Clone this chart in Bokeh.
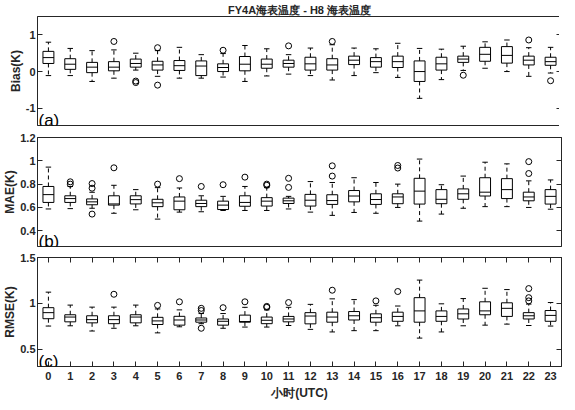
from bokeh.plotting import figure
from bokeh.models import (Range1d, FixedTicker, LinearAxis, Label,
                          CustomJSTickFormatter, ColumnDataSource)
from bokeh.layouts import column
from bokeh.transform import dodge
from bokeh.embed import file_html
from bokeh.resources import INLINE

# ---------------- data ----------------
hours = list(range(24))
hour_labels = [str(h) for h in hours]

title_text = "FY4A海表温度 - H8 海表温度"
x_label = "小时(UTC)"

# (a) Bias
bias_lo  = [-0.11, -0.11, -0.27, -0.18, 0.04, -0.13, -0.18, -0.18, -0.15, -0.27, -0.12, -0.07,
            -0.11, -0.23, -0.11, -0.03, -0.16, -0.73, -0.22, 0.03, 0.09, 0.00, -0.13, -0.04]
bias_q1  = [0.22, 0.06, -0.03, 0.02, 0.12, 0.04, 0.03, -0.11, 0.00, 0.02, 0.09, 0.12,
            0.04, 0.04, 0.19, 0.12, 0.11, -0.27, 0.04, 0.25, 0.28, 0.23, 0.18, 0.17]
bias_med = [0.38, 0.20, 0.12, 0.12, 0.22, 0.18, 0.16, 0.15, 0.11, 0.20, 0.20, 0.22,
            0.21, 0.18, 0.31, 0.27, 0.27, 0.00, 0.21, 0.34, 0.47, 0.44, 0.31, 0.27]
bias_q3  = [0.55, 0.35, 0.25, 0.27, 0.34, 0.28, 0.30, 0.29, 0.21, 0.41, 0.34, 0.31,
            0.39, 0.35, 0.42, 0.38, 0.42, 0.29, 0.39, 0.42, 0.66, 0.68, 0.42, 0.39]
bias_hi  = [0.80, 0.63, 0.57, 0.59, 0.50, 0.57, 0.66, 0.46, 0.49, 0.71, 0.62, 0.46,
            0.64, 0.73, 0.64, 0.62, 0.77, 0.63, 0.61, 0.69, 0.81, 0.86, 0.65, 0.66]
bias_out_h = [3, 4, 4, 5, 5, 8, 11, 13, 19, 22, 23]
bias_out_v = [0.82, -0.26, -0.30, 0.65, -0.37, 0.58, 0.70, 0.82, -0.10, 0.86, -0.25]

# (b) MAE
mae_lo  = [0.587, 0.59, 0.593, 0.55, 0.58, 0.50, 0.56, 0.563, 0.574, 0.574, 0.574, 0.587,
           0.56, 0.532, 0.557, 0.55, 0.60, 0.483, 0.543, 0.593, 0.607, 0.607, 0.60, 0.585]
mae_q1  = [0.643, 0.643, 0.623, 0.62, 0.63, 0.607, 0.58, 0.607, 0.582, 0.61, 0.612, 0.634,
           0.612, 0.626, 0.648, 0.626, 0.632, 0.629, 0.632, 0.67, 0.698, 0.676, 0.657, 0.629]
mae_med = [0.71, 0.676, 0.648, 0.63, 0.667, 0.64, 0.654, 0.634, 0.62, 0.643, 0.654, 0.657,
           0.662, 0.659, 0.698, 0.668, 0.69, 0.74, 0.67, 0.717, 0.731, 0.753, 0.69, 0.695]
mae_q3  = [0.78, 0.70, 0.673, 0.70, 0.70, 0.67, 0.69, 0.662, 0.654, 0.70, 0.684, 0.68,
           0.712, 0.709, 0.745, 0.717, 0.717, 0.85, 0.753, 0.759, 0.855, 0.847, 0.731, 0.753]
mae_hi  = [0.946, 0.78, 0.73, 0.79, 0.753, 0.77, 0.767, 0.70, 0.695, 0.78, 0.77, 0.695,
           0.822, 0.814, 0.855, 0.814, 0.80, 1.015, 0.795, 0.869, 0.988, 0.974, 0.828, 0.836]
mae_out_h = [1, 1, 2, 2, 2, 3, 5, 6, 7, 8, 9, 10, 10, 11, 11, 13, 13, 16, 16, 22, 22]
mae_out_v = [0.82, 0.80, 0.805, 0.765, 0.543, 0.94, 0.80, 0.847, 0.78, 0.795, 0.86,
             0.80, 0.79, 0.85, 0.772, 0.957, 0.869, 0.96, 0.938, 0.993, 0.891]

# (c) RMSE
rmse_lo  = [0.754, 0.757, 0.70, 0.73, 0.757, 0.68, 0.746, 0.78, 0.73, 0.743, 0.743, 0.76,
            0.718, 0.69, 0.704, 0.704, 0.757, 0.623, 0.69, 0.757, 0.764, 0.775, 0.76, 0.754]
rmse_q1  = [0.834, 0.80, 0.789, 0.78, 0.789, 0.771, 0.764, 0.796, 0.764, 0.796, 0.78, 0.80,
            0.778, 0.796, 0.82, 0.796, 0.806, 0.796, 0.806, 0.831, 0.877, 0.859, 0.831, 0.806]
rmse_med = [0.90, 0.852, 0.824, 0.824, 0.852, 0.81, 0.82, 0.82, 0.806, 0.803, 0.817, 0.831,
            0.863, 0.852, 0.866, 0.845, 0.859, 0.919, 0.859, 0.887, 0.919, 0.947, 0.866, 0.87]
rmse_q3  = [0.954, 0.877, 0.866, 0.866, 0.877, 0.849, 0.86, 0.842, 0.831, 0.873, 0.852, 0.859,
            0.90, 0.905, 0.912, 0.887, 0.905, 1.063, 0.919, 0.94, 1.018, 1.007, 0.90, 0.923]
rmse_hi  = [1.123, 0.982, 0.96, 0.96, 0.982, 0.94, 0.93, 0.89, 0.89, 0.958, 0.93, 0.958,
            0.99, 1.05, 1.042, 0.98, 0.972, 1.254, 0.996, 1.053, 1.165, 1.151, 0.993, 1.01]
rmse_out_h = [3, 5, 6, 7, 7, 7, 8, 9, 10, 10, 11, 13, 15, 16, 22, 22, 22]
rmse_out_v = [1.10, 0.979, 1.018, 0.947, 0.923, 0.73, 0.954, 1.018, 0.968, 0.958, 1.01,
              1.144, 1.028, 1.13, 1.162, 1.063, 1.028]

# ---------------- styling ----------------
FONT = "Liberation Sans"
INK = "#262626"
BL = 32
BR = 3
FW = 559 - BL - BR
FH = 109
BOX_W = 0.5
CAP_W = 0.25


def bare_axis(ticks):
    return LinearAxis(ticker=FixedTicker(ticks=ticks),
                      formatter=CustomJSTickFormatter(code="return '';"),
                      major_tick_in=5, major_tick_out=0, minor_tick_in=0, minor_tick_out=0,
                      major_label_standoff=0, major_label_text_font_size="1px",
                      axis_line_color=INK, major_tick_line_color=INK)


def make_panel(lo, q1, med, q3, hi, oh, ov, ymin, ymax, yticks, ylab, letter,
               top_border, bottom_border, show_x):
    p = figure(frame_width=FW, frame_height=FH,
               min_border_left=BL, min_border_right=BR,
               min_border_top=top_border, min_border_bottom=bottom_border,
               x_range=Range1d(-0.5, 23.5), y_range=Range1d(ymin, ymax),
               x_axis_location=None, y_axis_location=None,
               output_backend="svg", toolbar_location=None)
    p.grid.visible = False
    p.outline_line_color = INK
    p.outline_line_width = 1

    fmt = CustomJSTickFormatter(code="return String(Math.round(tick*10)/10);")
    left = LinearAxis(ticker=FixedTicker(ticks=yticks), formatter=fmt,
                      major_tick_in=5, major_tick_out=0, minor_tick_in=0, minor_tick_out=0,
                      major_label_standoff=2, major_label_text_font=FONT,
                      major_label_text_font_size="11px", major_label_text_font_style="bold",
                      major_label_text_color=INK, axis_line_color=INK, major_tick_line_color=INK,
                      axis_label=ylab, axis_label_standoff=0,
                      axis_label_text_font=FONT, axis_label_text_font_size="12px",
                      axis_label_text_font_style="bold", axis_label_text_color=INK)
    p.add_layout(left, "left")
    p.add_layout(bare_axis(yticks), "right")

    if show_x:
        bottom = LinearAxis(ticker=FixedTicker(ticks=hours),
                            major_label_overrides={h: s for h, s in zip(hours, hour_labels)},
                            major_tick_in=5, major_tick_out=0, minor_tick_in=0, minor_tick_out=0,
                            major_label_standoff=5, major_label_text_font=FONT,
                            major_label_text_font_size="11px", major_label_text_font_style="bold",
                            major_label_text_color=INK, axis_line_color=INK,
                            major_tick_line_color=INK,
                            axis_label=x_label, axis_label_standoff=3,
                            axis_label_text_font=FONT, axis_label_text_font_size="12px",
                            axis_label_text_font_style="bold", axis_label_text_color=INK)
        p.add_layout(bottom, "below")
        p.add_layout(bare_axis(hours), "above")

    src = ColumnDataSource(dict(h=hours, lo=lo, q1=q1, med=med, q3=q3, hi=hi))
    # whiskers
    p.segment(x0="h", y0="q3", x1="h", y1="hi", source=src, line_color="black",
              line_width=1, line_dash="4 3")
    p.segment(x0="h", y0="q1", x1="h", y1="lo", source=src, line_color="black",
              line_width=1, line_dash="4 3")
    # caps
    p.segment(x0=dodge("h", -CAP_W / 2), y0="hi", x1=dodge("h", CAP_W / 2), y1="hi",
              source=src, line_color="black", line_width=1)
    p.segment(x0=dodge("h", -CAP_W / 2), y0="lo", x1=dodge("h", CAP_W / 2), y1="lo",
              source=src, line_color="black", line_width=1)
    # boxes
    p.vbar(x="h", width=BOX_W, bottom="q1", top="q3", source=src,
           fill_color=None, line_color="black", line_width=1)
    # medians
    p.segment(x0=dodge("h", -BOX_W / 2), y0="med", x1=dodge("h", BOX_W / 2), y1="med",
              source=src, line_color="black", line_width=1)
    # outliers
    p.scatter(x=oh, y=ov, marker="circle", size=6, fill_color=None,
              line_color="black", line_width=1)

    p.add_layout(Label(x=1, y=5, x_units="screen", y_units="screen", text=letter,
                       text_font=FONT, text_font_size="17px", text_color="black",
                       text_baseline="alphabetic", text_align="left"))
    return p


pa = make_panel(bias_lo, bias_q1, bias_med, bias_q3, bias_hi, bias_out_h, bias_out_v,
                -1.47, 1.5, [-1, 0, 1], "Bias(K)", "(a)", 6, 5, False)
pa.title.text = title_text
pa.title.align = "center"
pa.title.text_font = FONT
pa.title.text_font_size = "11px"
pa.title.text_font_style = "bold"
pa.title.text_color = INK
pa.title.standoff = 2
pa.title.offset = 0

pb = make_panel(mae_lo, mae_q1, mae_med, mae_q3, mae_hi, mae_out_h, mae_out_v,
                0.265, 1.2, [0.4, 0.6, 0.8, 1.0, 1.2], "MAE(K)", "(b)", 7, 4, False)
pc = make_panel(rmse_lo, rmse_q1, rmse_med, rmse_q3, rmse_hi, rmse_out_h, rmse_out_v,
                0.314, 1.5, [0.5, 1.0, 1.5], "RMSE(K)", "(c)", 7, 32, True)

layout = column(pa, pb, pc, spacing=0)
open("out.html", "w").write(file_html(layout, INLINE))
